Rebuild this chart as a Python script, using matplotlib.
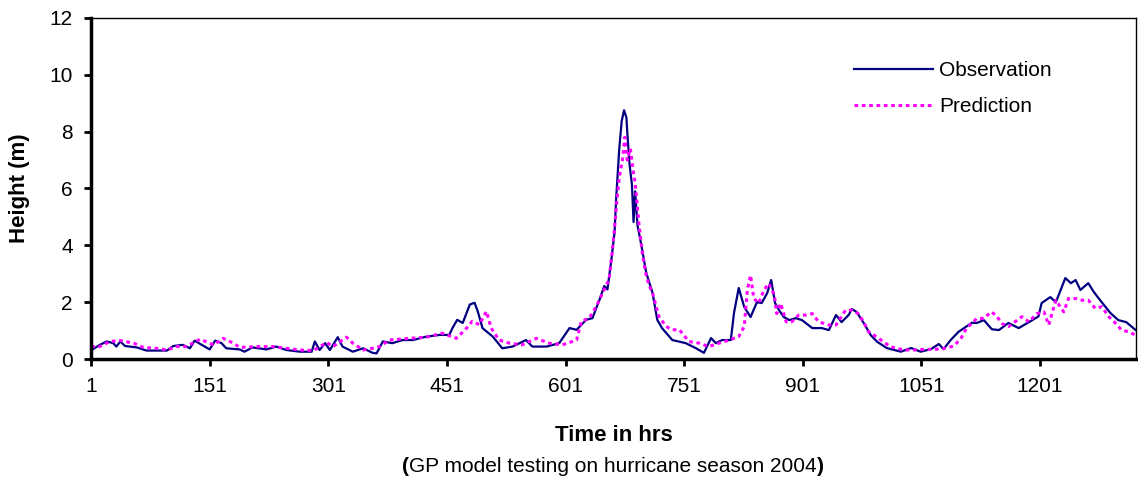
import numpy as np
import matplotlib
matplotlib.use("Agg")
import matplotlib.pyplot as plt

plt.rcParams['font.family'] = ['Liberation Sans', 'DejaVu Sans']

# observation (hours, height m)
obs_hr = [1, 3, 12, 21, 29, 33, 38, 44, 59, 71, 97, 105, 117, 126, 132, 141, 151, 158, 166, 172,
          189, 195, 205, 223, 235, 248, 265, 280, 284, 290, 297, 303, 313, 319, 332, 345, 357, 362,
          370, 382, 395, 408, 425, 442, 454, 458, 464, 471, 480, 486, 490, 496, 509, 521, 534, 551,
          559, 577, 593, 606, 615, 627, 635, 644, 650, 654, 659, 663, 665, 669, 672, 675, 678, 679,
          682, 685, 687, 689, 692, 697, 703, 711, 717, 723, 736, 753, 766, 776, 785, 791, 799, 810,
          814, 820, 827, 835, 843, 849, 856, 861, 866, 871, 877, 884, 892, 900, 913, 925, 934, 943,
          950, 959, 963, 969, 978, 987, 995, 1007, 1025, 1038, 1050, 1063, 1073, 1079, 1088, 1098,
          1105, 1115, 1121, 1130, 1140, 1149, 1161, 1174, 1187, 1199, 1203, 1214, 1221, 1227, 1233,
          1240, 1246, 1252, 1262, 1269, 1279, 1290, 1300, 1310, 1322]
obs_h = [0.36, 0.34, 0.50, 0.62, 0.56, 0.44, 0.62, 0.46, 0.41, 0.30, 0.30, 0.46, 0.50, 0.38, 0.65,
         0.50, 0.34, 0.65, 0.56, 0.38, 0.34, 0.26, 0.41, 0.34, 0.44, 0.32, 0.26, 0.26, 0.62, 0.32,
         0.56, 0.32, 0.77, 0.44, 0.26, 0.38, 0.22, 0.20, 0.62, 0.56, 0.67, 0.67, 0.79, 0.85, 0.85,
         1.09, 1.38, 1.27, 1.92, 1.98, 1.68, 1.09, 0.79, 0.38, 0.44, 0.67, 0.44, 0.44, 0.56, 1.09,
         1.03, 1.38, 1.44, 2.09, 2.57, 2.45, 3.51, 4.46, 5.64, 7.42, 8.37, 8.75, 8.49, 8.0, 6.83,
         6.12, 4.82, 5.9, 4.7, 3.99, 3.04, 2.33, 1.38, 1.09, 0.67, 0.56, 0.38, 0.22, 0.74, 0.56,
         0.67, 0.67, 1.62, 2.5, 1.83, 1.48, 2.0, 1.97, 2.32, 2.78, 1.97, 1.72, 1.48, 1.37, 1.44,
         1.37, 1.09, 1.09, 1.02, 1.55, 1.30, 1.55, 1.76, 1.66, 1.27, 0.84, 0.61, 0.39, 0.26, 0.39,
         0.26, 0.35, 0.53, 0.35, 0.67, 0.96, 1.09, 1.28, 1.27, 1.37, 1.05, 1.02, 1.27, 1.09, 1.3,
         1.5, 1.97, 2.18, 2.0, 2.43, 2.85, 2.67, 2.78, 2.43, 2.67, 2.36, 2.0, 1.62, 1.37, 1.3, 1.02]

# GP prediction
pred_hr = [1, 12, 25, 38, 55, 67, 83, 97, 109, 121, 139, 156, 168, 181, 189, 214, 231, 248, 265,
           282, 299, 307, 324, 332, 345, 357, 366, 378, 404, 425, 445, 463, 476, 483, 492, 501, 507,
           517, 530, 546, 564, 580, 597, 615, 621, 631, 640, 648, 656, 660, 664, 666, 669, 673, 676,
           679, 683, 686, 689, 692, 694, 698, 703, 707, 711, 719, 728, 736, 745, 757, 770, 782, 795,
           808, 820, 827, 831, 835, 839, 845, 852, 858, 865, 868, 873, 880, 887, 896, 905, 913, 921,
           934, 943, 955, 963, 971, 978, 984, 991, 1000, 1012, 1029, 1041, 1054, 1067, 1079, 1092,
           1101, 1108, 1121, 1130, 1139, 1145, 1153, 1161, 1178, 1187, 1197, 1206, 1212, 1221, 1231,
           1237, 1246, 1254, 1262, 1271, 1279, 1288, 1297, 1304, 1313, 1322]
pred_h = [0.44, 0.44, 0.62, 0.65, 0.56, 0.41, 0.38, 0.32, 0.44, 0.44, 0.70, 0.50, 0.73, 0.56, 0.41,
          0.44, 0.44, 0.38, 0.32, 0.30, 0.58, 0.44, 0.77, 0.56, 0.32, 0.38, 0.44, 0.67, 0.73, 0.77,
          0.91, 0.73, 1.09, 1.33, 1.21, 1.68, 1.09, 0.67, 0.56, 0.50, 0.73, 0.56, 0.50, 0.67, 1.33,
          1.44, 1.86, 2.33, 2.8, 3.75, 4.93, 5.6, 6.4, 7.0, 7.8, 7.0, 7.4, 6.7, 6.2, 5.3, 4.7, 3.75,
          2.92, 2.57, 2.33, 1.5, 1.15, 1.03, 1.03, 0.62, 0.56, 0.44, 0.56, 0.67, 0.79, 1.15, 2.45,
          2.95, 2.14, 1.96, 2.43, 2.66, 2.26, 1.6, 1.96, 1.31, 1.31, 1.55, 1.55, 1.6, 1.31, 1.2, 1.2,
          1.72, 1.72, 1.6, 1.31, 0.96, 0.84, 0.67, 0.43, 0.32, 0.32, 0.34, 0.34, 0.37, 0.46, 0.73,
          1.08, 1.43, 1.43, 1.66, 1.55, 1.25, 1.14, 1.49, 1.31, 1.6, 1.66, 1.2, 2.07, 1.66, 2.13,
          2.13, 2.07, 2.07, 1.78, 1.84, 1.49, 1.25, 1.02, 0.96, 0.84]

xticks = [1, 151, 301, 451, 601, 751, 901, 1051, 1201]
yticks = [0, 2, 4, 6, 8, 10, 12]

fig = plt.figure(figsize=(11.38, 4.82), dpi=100)
ax = fig.add_axes([0.080, 0.255, 0.918, 0.708])

ax.plot(obs_hr, obs_h, color='#000080', lw=1.6, label='Observation')
ax.plot(pred_hr, pred_h, color='#FF00FF', lw=2.2, ls=(0, (1.2, 1.2)), label='Prediction')

ax.set_xlim(1, 1322)
ax.set_ylim(0, 12)
ax.set_xticks(xticks)
ax.set_yticks(yticks)
ax.tick_params(labelsize=15, width=2, length=5, direction='out', pad=8)

for s in ['left', 'bottom']:
    ax.spines[s].set_linewidth(2.5)
for s in ['top', 'right']:
    ax.spines[s].set_linewidth(1)

ax.set_ylabel('Height (m)', fontsize=16, fontweight='bold', labelpad=14)
ax.set_xlabel('Time in hrs', fontsize=16, fontweight='bold', labelpad=21)

# subtitle with bold brackets
mid = fig.text(0.5385, 0.013, 'GP model testing on hurricane season 2004', fontsize=15,
               ha='center', va='bottom')
ax.annotate('(', xy=(0, 0), xycoords=mid, ha='right', va='bottom', fontsize=15, fontweight='bold')
ax.annotate(')', xy=(1, 0), xycoords=mid, ha='left', va='bottom', fontsize=15, fontweight='bold')

ax.legend(loc='upper left', bbox_to_anchor=(0.73, 0.873), frameon=False, fontsize=15,
          handlelength=3.8, handletextpad=0.3, labelspacing=0.8, borderpad=0, borderaxespad=0)

fig.savefig('out.png', dpi=100)
